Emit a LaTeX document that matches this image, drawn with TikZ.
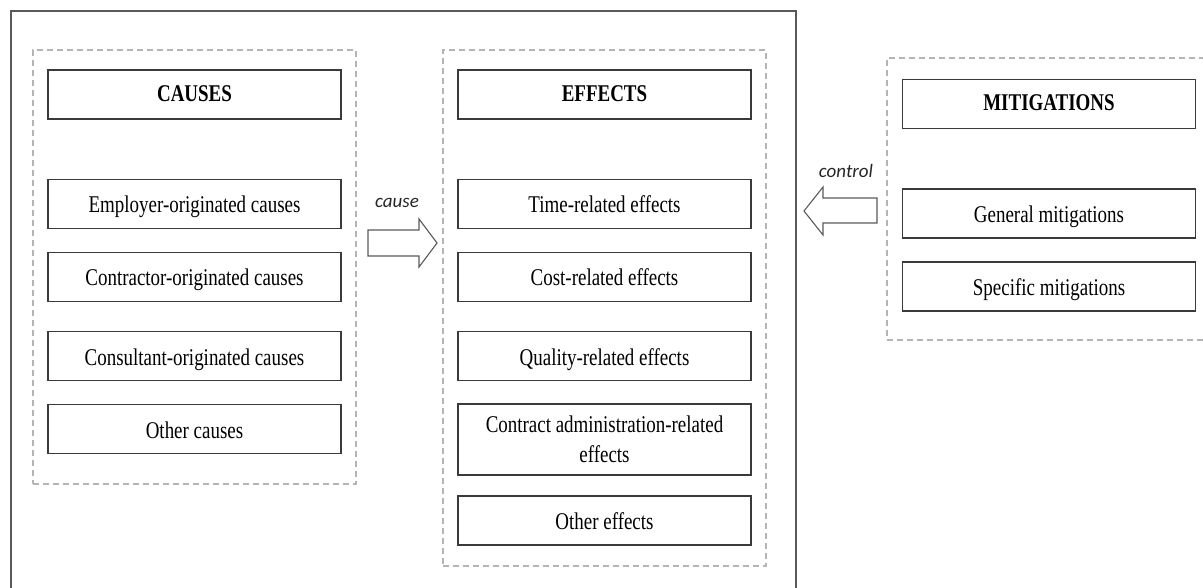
\documentclass[tikz,border=0pt]{standalone}
\usepackage{fontspec}
\setmainfont{Liberation Serif}[FakeStretch=0.79]
\newfontfamily\lblfont{Carlito}
\definecolor{boxline}{HTML}{3A3A3A}
\definecolor{dashline}{HTML}{B4B4B4}
\definecolor{arrowline}{HTML}{5A5A5A}
\tikzset{
  basebox/.style={draw=boxline, line width=1.4pt, minimum width=293pt, minimum height=49pt,
    inner sep=0pt, align=center, font=\fontsize{24}{30}\selectfont, text=black},
  itembox/.style={basebox, text height=20pt, text depth=2pt},
  headbox/.style={basebox, text height=18pt, text depth=4pt, font=\fontsize{24}{30}\selectfont\bfseries},
  groupbox/.style={draw=dashline, line width=1.1pt, dash pattern=on 6pt off 4pt, inner sep=0pt, minimum width=323pt},
  blockarrow/.style={draw=arrowline, line width=1.1pt, fill=white},
  lbl/.style={font=\lblfont\itshape\fontsize{19}{22}\selectfont, text=black!85, inner sep=0pt}
}
\begin{document}
\begin{tikzpicture}[x=1pt,y=-1pt]
\useasboundingbox (0,0) rectangle (1203,588);
\clip (0,0) rectangle (1203,588);
% outer frame
\draw[draw=black!65, line width=1.5pt] (11,600) -- (11,11) -- (796,11) -- (796,600);
% groups
\node[groupbox, minimum height=434pt] (gcause) at (194.5,267) {};
\node[groupbox, minimum height=516pt] (geffect) at (604.5,308) {};
\node[groupbox, minimum height=282pt] (gmitig) at (1048.5,199) {};
% causes
\node[headbox] (causes) at (194.5,94.5) {CAUSES};
\node[itembox] (c1) at (194.5,204) {Employer-originated causes};
\node[itembox] (c2) at (194.5,277) {Contractor-originated causes};
\node[itembox] (c3) at (194.5,356) {Consultant-originated causes};
\node[itembox] (c4) at (194.5,429) {Other causes};
% effects
\node[headbox] (effects) at (604.5,94.5) {EFFECTS};
\node[itembox] (e1) at (604.5,204) {Time-related effects};
\node[itembox] (e2) at (604.5,277) {Cost-related effects};
\node[itembox] (e3) at (604.5,356) {Quality-related effects};
\node[basebox, minimum height=71pt] (e4) at (604.5,439.5) {Contract administration-related\\effects};
\node[itembox] (e5) at (604.5,520.5) {Other effects};
% mitigations
\node[headbox] (mitig) at (1049,104) {MITIGATIONS};
\node[itembox] (m1) at (1049,213.5) {General mitigations};
\node[itembox] (m2) at (1049,286.5) {Specific mitigations};
% block arrows
\draw[blockarrow] (368,230) -- (419,230) -- (419,219) -- (437,243) -- (419,267) -- (419,256) -- (368,256) -- cycle;
\node[lbl] (causelbl) at (397,203) {cause};
\draw[blockarrow] (877,198) -- (823,198) -- (823,187) -- (804,211) -- (823,235) -- (823,223) -- (877,223) -- cycle;
\node[lbl] (controllbl) at (846,171) {control};
\end{tikzpicture}
\end{document}
